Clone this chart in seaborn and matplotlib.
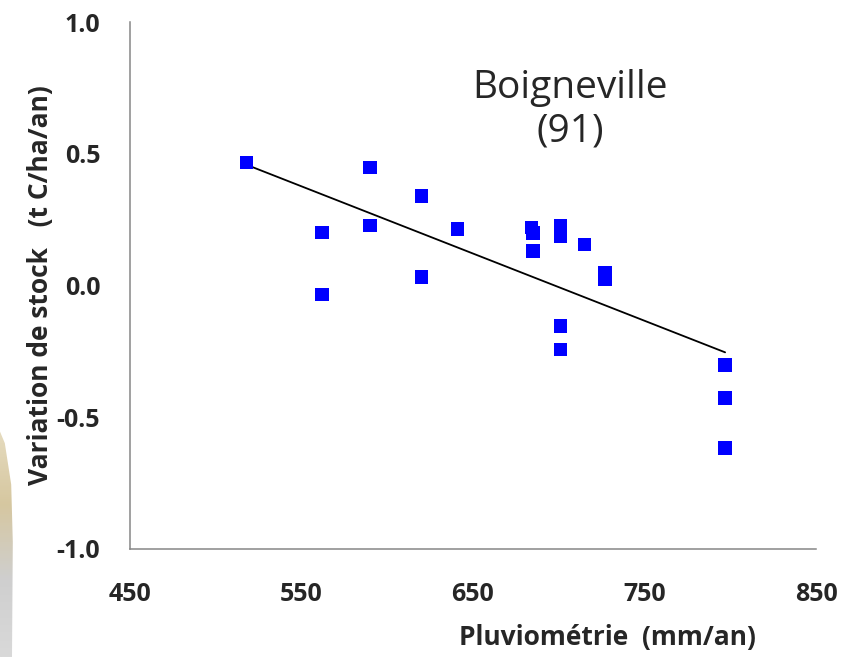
import numpy as np
import pandas as pd
import matplotlib
matplotlib.use("Agg")
import matplotlib.pyplot as plt
import seaborn as sns
from matplotlib.patches import Polygon

sns.set_style("white")
plt.rcParams['font.family'] = ['Open Sans', 'DejaVu Sans']

# rainfall (mm/an) and annual change in soil carbon stock (t C/ha/an)
pluvio = [518, 562, 562, 590, 590, 620, 620, 641, 684, 685, 685,
          701, 701, 701, 701, 715, 727, 727, 797, 797, 797]
variation = [0.466, 0.202, -0.034, 0.448, 0.228, 0.340, 0.032, 0.215, 0.220, 0.200, 0.130,
             0.226, 0.188, -0.154, -0.243, 0.155, 0.048, 0.023, -0.302, -0.426, -0.616]
x_ticks = [450, 550, 650, 750, 850]
y_ticks = [-1.0, -0.5, 0.0, 0.5, 1.0]

df = pd.DataFrame({"pluvio": pluvio, "variation": variation})

fig = plt.figure(figsize=(8.44, 6.57), dpi=100)

# faint slide decoration at the bottom-left edge
deco = fig.add_axes([0, 0, 16 / 844, 230 / 657])
grad = np.linspace(0, 1, 100)[:, None]
cmap = matplotlib.colors.LinearSegmentedColormap.from_list(
    "deco", ["#d9d9d9", "#cfcfcf", "#d6c7a0", "#e6dcc0"])
im = deco.imshow(grad, cmap=cmap, aspect="auto", origin="lower", extent=[0, 1, 0, 1])
clip = Polygon([[0, 0], [0.75, 0], [0.8, 0.5], [0.7, 0.75], [0.3, 0.93], [0, 0.98]],
               closed=True, transform=deco.transAxes)
im.set_clip_path(clip)
deco.set_axis_off()

ax = fig.add_axes([130 / 844, 1 - 549 / 657, 686 / 844, 527 / 657])

# trend line (least squares, like the Excel linear trendline)
sns.regplot(data=df, x="pluvio", y="variation", ax=ax, ci=None, scatter=False,
            truncate=True, line_kws={"color": "black", "lw": 1.3})
sns.scatterplot(data=df, x="pluvio", y="variation", ax=ax, marker="s", s=95,
                color="#0000ff", edgecolor="none", zorder=3)

ax.set_xlim(450, 850)
ax.set_ylim(-1.0, 1.0)
ax.set_xticks(x_ticks)
ax.set_yticks(y_ticks)
ax.set_yticklabels([f"{v:.1f}" for v in y_ticks])

for side in ["top", "right"]:
    ax.spines[side].set_visible(False)
for side in ["left", "bottom"]:
    ax.spines[side].set_color("#868686")
    ax.spines[side].set_linewidth(1.1)

ax.tick_params(axis="x", direction="out", length=8, width=1.1, color="#868686",
               pad=16, labelsize=18)
ax.tick_params(axis="y", direction="out", length=6.5, width=1.1, color="#868686",
               pad=15, labelsize=18)
for lab in ax.get_xticklabels() + ax.get_yticklabels():
    lab.set_fontweight("bold")

ax.set_xlabel("Pluviométrie  (mm/an)", fontsize=19, fontweight="bold")
ax.xaxis.set_label_coords((607 - 130) / 686, (549 - 624) / 527)
ax.set_ylabel("Variation de stock   (t C/ha/an)", fontsize=19, fontweight="bold")
ax.yaxis.set_label_coords((54 - 130) / 686, 0.5)

ax.text((570 - 130) / 686, (549 - 110) / 527, "Boigneville\n(91)", transform=ax.transAxes,
        ha="center", va="center", multialignment="center", fontsize=28, linespacing=1.2)

fig.savefig("out.png", dpi=100)
